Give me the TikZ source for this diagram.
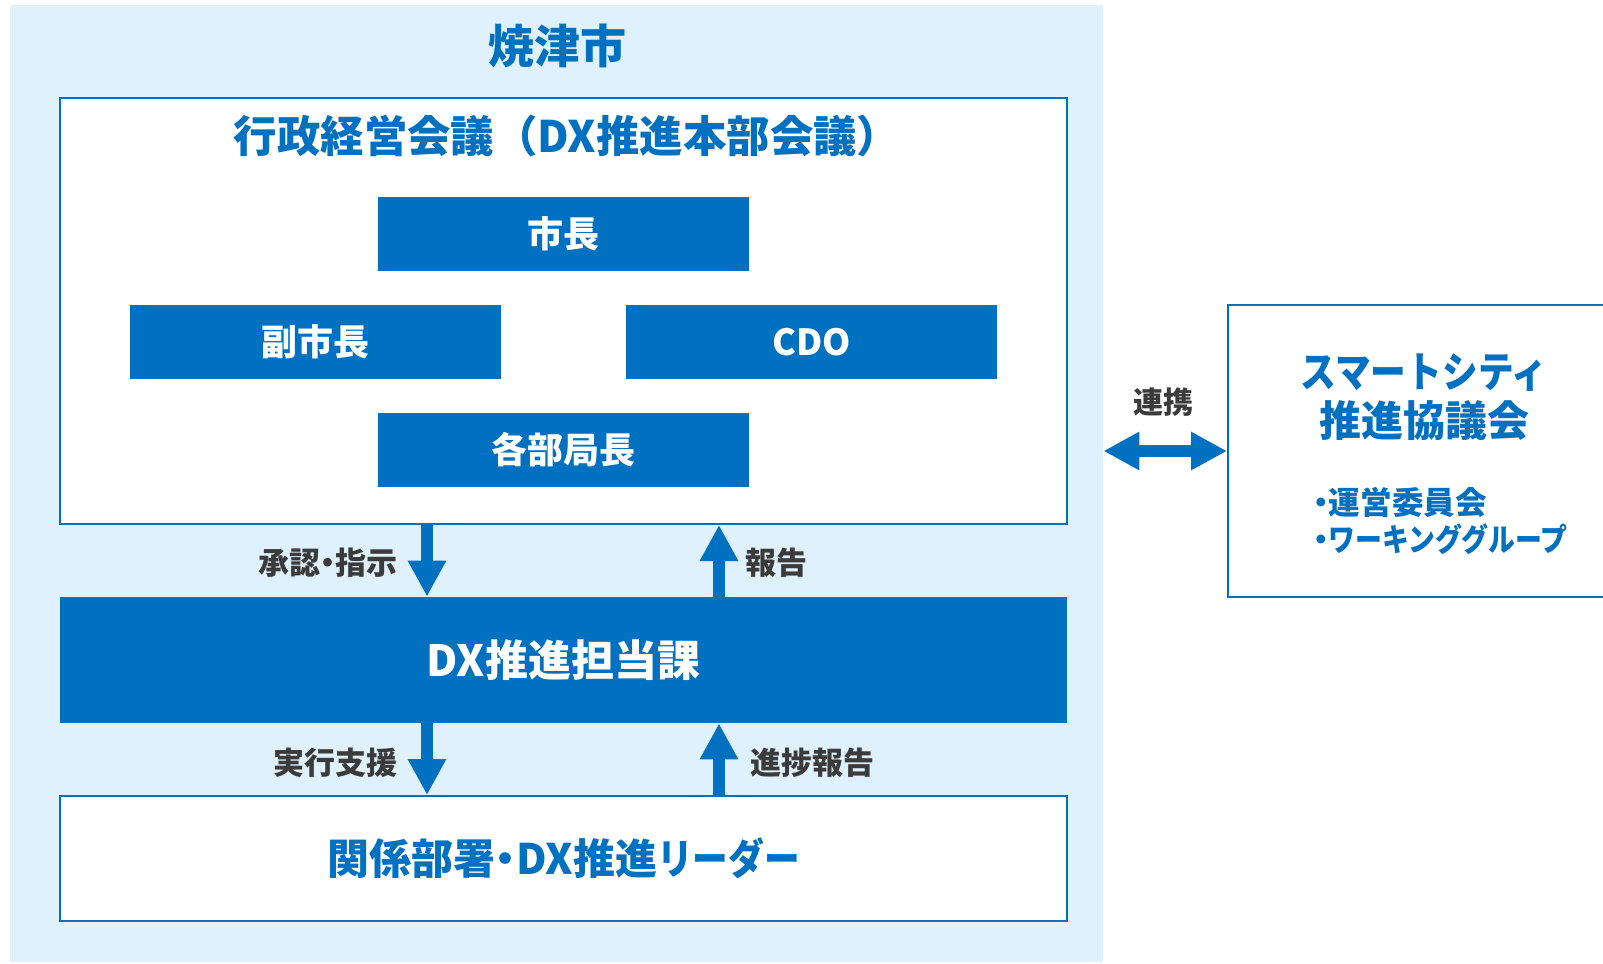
\documentclass[tikz,border=0pt]{standalone}
\usepackage{fontspec}
\setmainfont{Noto Sans CJK JP}
\newfontfamily\kana{Noto Sans CJK JP}[FakeStretch=0.85]
\usetikzlibrary{arrows.meta}
\definecolor{yaizublue}{HTML}{0070C0}
\definecolor{paleblue}{HTML}{DEF1FD}
\definecolor{labelgray}{HTML}{3B3B3B}
\newcommand{\fs}[1]{\bfseries\fontsize{#1}{#1}\selectfont}
\newcommand{\ndot}{\makebox[0.5em]{・}}

\begin{document}
\begin{tikzpicture}[x=0.5pt,y=-0.5pt]
    \tikzstyle{post}=[fill=yaizublue, text=white, font=\fs{18}, minimum width=185.5pt, minimum height=37pt, inner sep=0pt]
    \tikzstyle{frame}=[draw=yaizublue, line width=1pt, fill=white, minimum width=503.5pt, inner sep=0pt]
    \tikzstyle{lab}=[text=labelgray, font=\fs{15.5}, inner sep=0pt]
    \tikzstyle{flow}=[yaizublue, line width=6pt, -{Triangle[length=18pt,width=18pt]}]
    \useasboundingbox (0,0) rectangle (1603,964);
    % city area
    \node[fill=paleblue, minimum width=546.5pt, minimum height=478.5pt, inner sep=0pt] (city) at (556.5,483.5) {};
    \node[text=yaizublue, font=\fs{23}] (cityname) at (557,46) {焼津市};
    % management council
    \node[frame, minimum height=213pt] (council) at (563.5,311) {};
    \node[text=yaizublue, font=\fs{21.7}] (counciltitle) at (567,136) {行政経営会議（DX推進本部会議）};
    \node[post] (mayor) at (563.5,234) {市長};
    \node[post] (vice) at (315.5,342) {副市長};
    \node[post] (cdo) at (811.5,342) {CDO};
    \node[post] (heads) at (563.5,450) {各部局長};
    % DX section and departments
    \node[post, minimum width=503.5pt, minimum height=63pt, font=\fs{21.5}] (dx) at (563.5,660) {DX推進担当課};
    \node[frame, minimum height=62.5pt, text=yaizublue, font=\fs{21}] (dept) at (563.5,858.5) {関係部署\ndot DX推進{\kana リーダー}};
    \coordinate (al) at (427,0);
    \coordinate (ar) at (719,0);
    \draw[flow] (al |- council.south) -- (al |- dx.north);
    \draw[flow] (ar |- dx.north) -- (ar |- council.south);
    \draw[flow] (al |- dx.south) -- (al |- dept.north);
    \draw[flow] (ar |- dept.north) -- (ar |- dx.south);
    \node[lab, anchor=east] (approve) at (398,563) {承認\ndot 指示};
    \node[lab, anchor=west] (report) at (745,563) {報告};
    \node[lab, anchor=east] (support) at (398,763) {実行支援};
    \node[lab, anchor=west] (progress) at (750,763) {進捗報告};
    % smart city council
    \node[draw=yaizublue, line width=1pt, fill=white, minimum width=193.5pt, minimum height=146pt, inner sep=0pt] (smart) at (1421.5,451) {};
    \node[text=yaizublue, font=\fs{21}, align=center] (smarttitle) at (1424,397) {{\kana スマートシティ}\\[3.5pt]推進協議会};
    \node[text=yaizublue, font=\fs{15.8}, align=left, anchor=west] (smartsub) at (1306,521) {\ndot 運営委員会\\[3pt]\ndot{\kana ワーキンググループ}};
    \draw[yaizublue, line width=6pt, {Triangle[length=18pt,width=18pt]}-{Triangle[length=18pt,width=18pt]}] (city.east |- smart.west) -- (smart.west);
    \node[lab, font=\fs{15}] (link) at (1163,402) {連携};
\end{tikzpicture}
\end{document}
